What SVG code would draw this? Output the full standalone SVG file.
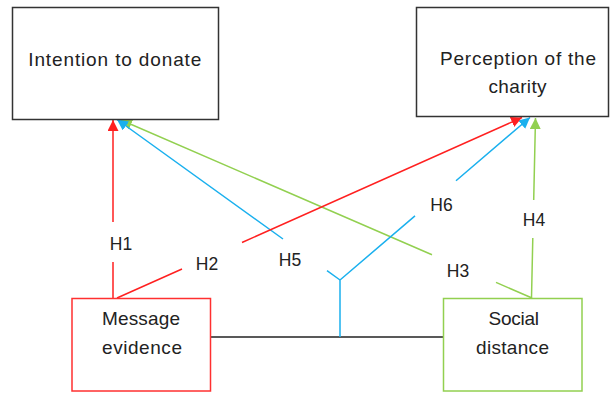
<svg xmlns="http://www.w3.org/2000/svg" width="611" height="394" viewBox="0 0 611 394">
<style>
.box{fill:#fff;stroke-width:1.5}
.txt{font-family:"Liberation Sans",Arial,sans-serif;font-size:19px;fill:#222}
.lbl{font-family:"Liberation Sans",Arial,sans-serif;font-size:17.5px;fill:#222;text-anchor:middle}
.c{fill:none;stroke-width:1.5}
.red{stroke:#ff2020}
.blue{stroke:#1ab0ee}
.green{stroke:#92d050}
</style>
<defs>
<marker id="ar" viewBox="0 0 10 10" refX="10" refY="5" markerWidth="11" markerHeight="11" markerUnits="userSpaceOnUse" orient="auto"><path d="M0,0 L10,5 L0,10 z" fill="#ff2020"/></marker>
<marker id="ab" viewBox="0 0 10 10" refX="10" refY="5" markerWidth="11" markerHeight="11" markerUnits="userSpaceOnUse" orient="auto"><path d="M0,0 L10,5 L0,10 z" fill="#1ab0ee"/></marker>
<marker id="ag" viewBox="0 0 10 10" refX="10" refY="5" markerWidth="11" markerHeight="11" markerUnits="userSpaceOnUse" orient="auto"><path d="M0,0 L10,5 L0,10 z" fill="#92d050"/></marker>
</defs>
<rect width="611" height="394" fill="#fff"/>
<g id="connectors">
<path class="c" stroke="#222" d="M210,337 L443.5,337"/>
<path class="c green" d="M532,298 L496,282.4 M432,254.7 L121,120" marker-end="url(#ag)"/>
<path class="c green" d="M531.5,298 L532.8,238 M533.7,200 L535.5,118" marker-end="url(#ag)"/>
<path class="c blue" d="M340,280 L327,270.6 M283,239 L117,119.5" marker-end="url(#ab)"/>
<path class="c blue" d="M340,337 L340,280 L415,215.9 M456,180.8 L530,117.5" marker-end="url(#ab)"/>
<path class="c red" d="M117,298 L182,269 M242,242.5 L522,117.5" marker-end="url(#ar)"/>
<path class="c red" d="M113,298 L113,262 M113,222 L113,120" marker-end="url(#ar)"/>
<text class="lbl" x="121" y="249.5">H1</text>
<text class="lbl" x="207" y="270">H2</text>
<text class="lbl" x="458" y="277">H3</text>
<text class="lbl" x="534" y="226">H4</text>
<text class="lbl" x="290" y="266">H5</text>
<text class="lbl" x="441.5" y="211">H6</text>
</g>
<g id="intention">
<rect class="box" x="12.5" y="7.5" width="206" height="112" stroke="#333"/>
<text class="txt" x="28.3" y="66" textLength="173" lengthAdjust="spacing">Intention to donate</text>
</g>
<g id="perception">
<rect class="box" x="416.5" y="7.5" width="192" height="109" stroke="#333"/>
<text class="txt" x="440" y="64.5" textLength="156" lengthAdjust="spacing">Perception of the</text>
<text class="txt" x="488.5" y="92.5" textLength="58" lengthAdjust="spacing">charity</text>
</g>
<g id="message">
<rect class="box" x="72" y="298.5" width="138.5" height="92.5" stroke="#ff3030"/>
<text class="txt" x="102" y="324.5" textLength="78" lengthAdjust="spacing">Message</text>
<text class="txt" x="102" y="354" textLength="80" lengthAdjust="spacing">evidence</text>
</g>
<g id="social">
<rect class="box" x="443.5" y="298.5" width="138.5" height="92.5" stroke="#92d050"/>
<text class="txt" x="488.5" y="324.5" textLength="50.5" lengthAdjust="spacing">Social</text>
<text class="txt" x="476" y="354" textLength="73" lengthAdjust="spacing">distance</text>
</g>
</svg>
